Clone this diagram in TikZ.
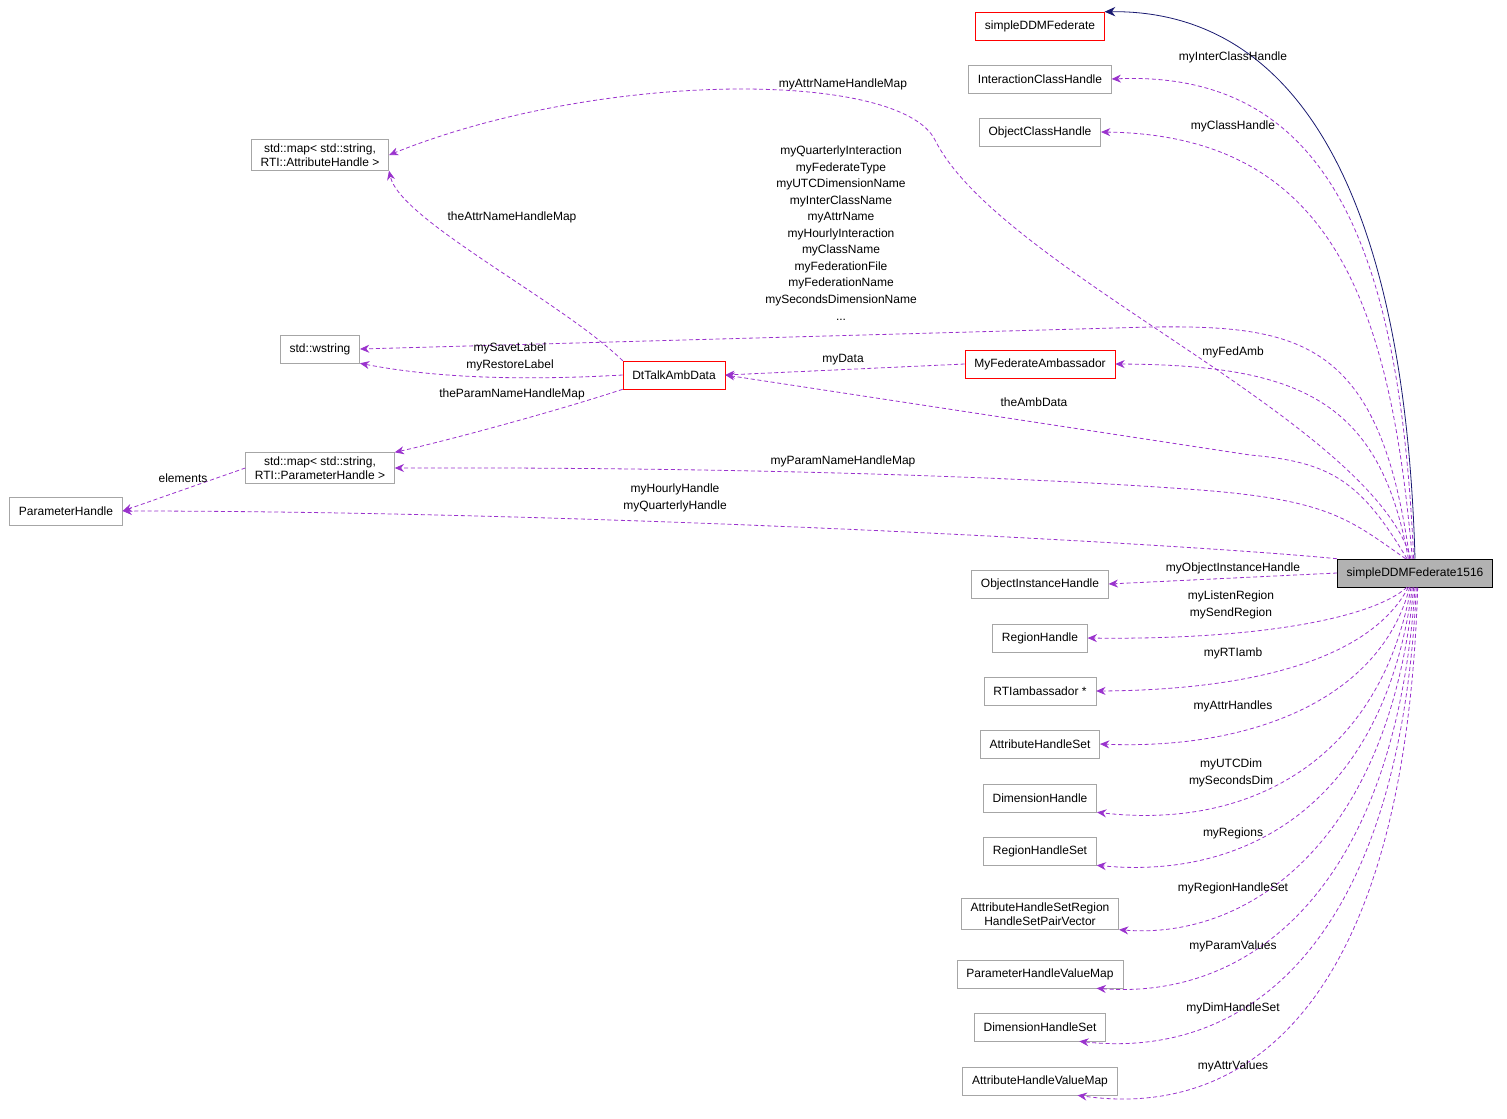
\documentclass[tikz,border=0pt]{standalone}
\usepackage{fontspec}
\setmainfont{Liberation Sans}
\usetikzlibrary{arrows.meta}
\definecolor{relcol}{HTML}{9A32CD}
\definecolor{inhcol}{HTML}{191970}
\tikzset{
  box/.style={draw=black!35, fill=white, inner xsep=7pt, inner ysep=3pt, minimum height=21pt, align=center, font=\fontsize{9}{10.5}\selectfont},
  redbox/.style={box, draw=red},
  rel/.style={densely dashed, relcol, line width=0.6pt, -{Stealth[length=7pt,width=6pt]}},
  inh/.style={inhcol, line width=0.6pt, -{Stealth[length=8pt,width=7pt]}},
  lbl/.style={font=\fontsize{9}{13}\selectfont, align=center, inner sep=0pt}
}
\begin{document}
\begin{tikzpicture}[x=0.75pt,y=-0.75pt]
        \useasboundingbox (0,0) rectangle (1507,1118);
        % nodes
        \node[box, fill=black!30, draw=black] (s) at (1415,573) {simpleDDMFederate1516};
        \node[redbox] (sf) at (1040,26) {simpleDDMFederate};
        \node[box] (ich) at (1040,79) {InteractionClassHandle};
        \node[box] (och) at (1040,132) {ObjectClassHandle};
        \node[box] (ma) at (320,155) {std::map< std::string,\\ RTI::AttributeHandle >};
        \node[box] (ws) at (320,349) {std::wstring};
        \node[redbox] (dt) at (674,375) {DtTalkAmbData};
        \node[redbox] (mfa) at (1040,364) {MyFederateAmbassador};
        \node[box] (mp) at (320,468) {std::map< std::string,\\ RTI::ParameterHandle >};
        \node[box] (ph) at (66,511) {ParameterHandle};
        \node[box] (oih) at (1040,584) {ObjectInstanceHandle};
        \node[box] (rh) at (1040,638) {RegionHandle};
        \node[box] (rti) at (1040,691) {RTIambassador *};
        \node[box] (ahs) at (1040,744) {AttributeHandleSet};
        \node[box] (dh) at (1040,798) {DimensionHandle};
        \node[box] (rhs) at (1040,851) {RegionHandleSet};
        \node[box] (ahv) at (1040,914) {AttributeHandleSetRegion\\HandleSetPairVector};
        \node[box] (phv) at (1040,974) {ParameterHandleValueMap};
        \node[box] (dhs) at (1040,1027) {DimensionHandleSet};
        \node[box] (avm) at (1040,1081) {AttributeHandleValueMap};

        % inheritance
        \draw[inh] (s.north) .. controls (1405,200) and (1300,10) .. (sf.north east);

        % members of simpleDDMFederate1516
        \draw[rel] ([xshift=-1pt]s.north) .. controls (1400,250) and (1330,70) .. (ich.east);
        \draw[rel] ([xshift=-2pt]s.north) .. controls (1390,300) and (1330,135) .. (och.east);
        \draw[rel] ([xshift=-3pt]s.north) .. controls (1370,420) and (1000,270) .. (935,140)
                   .. controls (900,70) and (600,70) .. (ma.east);
        \draw[rel] ([xshift=-4pt]s.north) .. controls (1380,340) and (1300,325) .. (1150,327)
                   -- (ws.east);
        \draw[rel] ([xshift=-5pt]s.north) .. controls (1380,400) and (1300,365) .. (mfa.east);
        \draw[rel] ([xshift=-6pt]s.north) .. controls (1360,480) and (1330,462) .. (1250,455)
                   -- (dt.east);
        \draw[rel] ([xshift=-7pt]s.north) .. controls (1350,520) and (1330,500) .. (1200,490)
                   .. controls (1000,475) and (700,467) .. (mp.east);
        \draw[rel] (s.north west) .. controls (1200,545) and (600,511) .. (ph.east);
        \draw[rel] (s.west) -- (oih.east);
        \draw[rel] ([xshift=-6pt]s.south) .. controls (1370,620) and (1250,640) .. (rh.east);
        \draw[rel] ([xshift=-5pt]s.south) .. controls (1370,660) and (1250,690) .. (rti.east);
        \draw[rel] ([xshift=-4pt]s.south) .. controls (1380,700) and (1250,750) .. (ahs.east);
        \draw[rel] ([xshift=-3pt]s.south) .. controls (1380,760) and (1250,830) .. (dh.south east);
        \draw[rel] ([xshift=-2pt]s.south) .. controls (1385,800) and (1250,880) .. (rhs.south east);
        \draw[rel] ([xshift=-1pt]s.south) .. controls (1390,840) and (1250,940) .. (ahv.south east);
        \draw[rel] (s.south) .. controls (1395,890) and (1250,1000) .. ([xshift=-20pt]phv.south east);
        \draw[rel] ([xshift=1pt]s.south) .. controls (1400,940) and (1250,1060) .. ([xshift=-20pt]dhs.south east);
        \draw[rel] ([xshift=2pt]s.south) .. controls (1405,1000) and (1250,1120) .. ([xshift=-30pt]avm.south east);

        % other members
        \draw[rel] (dt.north west) .. controls (560,300) and (400,220) .. (ma.south east);
        \draw[rel] (dt.west) .. controls (500,382) and (420,375) .. (ws.south east);
        \draw[rel] (dt.south west) .. controls (560,410) and (450,440) .. (mp.north east);
        \draw[rel] (mfa.west) -- (dt.east);
        \draw[rel] (mp.west) -- (ph.east);

        % labels
        \node[lbl] (l1) at (1233,57) {myInterClassHandle};
        \node[lbl] (l2) at (1233,126) {myClassHandle};
        \node[lbl] (l3) at (843,84) {myAttrNameHandleMap};
        \node[lbl, font=\fontsize{9}{12.4}\selectfont] (l4) at (841,233) {myQuarterlyInteraction\\myFederateType\\myUTCDimensionName\\myInterClassName\\myAttrName\\myHourlyInteraction\\myClassName\\myFederationFile\\myFederationName\\mySecondsDimensionName\\...};
        \node[lbl] (l5) at (512,217) {theAttrNameHandleMap};
        \node[lbl] (l6) at (510,357) {mySaveLabel\\myRestoreLabel};
        \node[lbl] (l7) at (512,394) {theParamNameHandleMap};
        \node[lbl] (l8) at (843,360) {myData};
        \node[lbl] (l9) at (1233,352) {myFedAmb};
        \node[lbl] (l10) at (1034,402) {theAmbData};
        \node[lbl] (l11) at (843,461) {myParamNameHandleMap};
        \node[lbl] (l12) at (183,478) {elements};
        \node[lbl] (l13) at (675,498) {myHourlyHandle\\myQuarterlyHandle};
        \node[lbl] (l14) at (1233,568) {myObjectInstanceHandle};
        \node[lbl] (l15) at (1231,605) {myListenRegion\\mySendRegion};
        \node[lbl] (l16) at (1233,653) {myRTIamb};
        \node[lbl] (l17) at (1233,706) {myAttrHandles};
        \node[lbl] (l18) at (1231,773) {myUTCDim\\mySecondsDim};
        \node[lbl] (l19) at (1233,833) {myRegions};
        \node[lbl] (l20) at (1233,888) {myRegionHandleSet};
        \node[lbl] (l21) at (1233,946) {myParamValues};
        \node[lbl] (l22) at (1233,1008) {myDimHandleSet};
        \node[lbl] (l23) at (1233,1066) {myAttrValues};
\end{tikzpicture}
\end{document}
